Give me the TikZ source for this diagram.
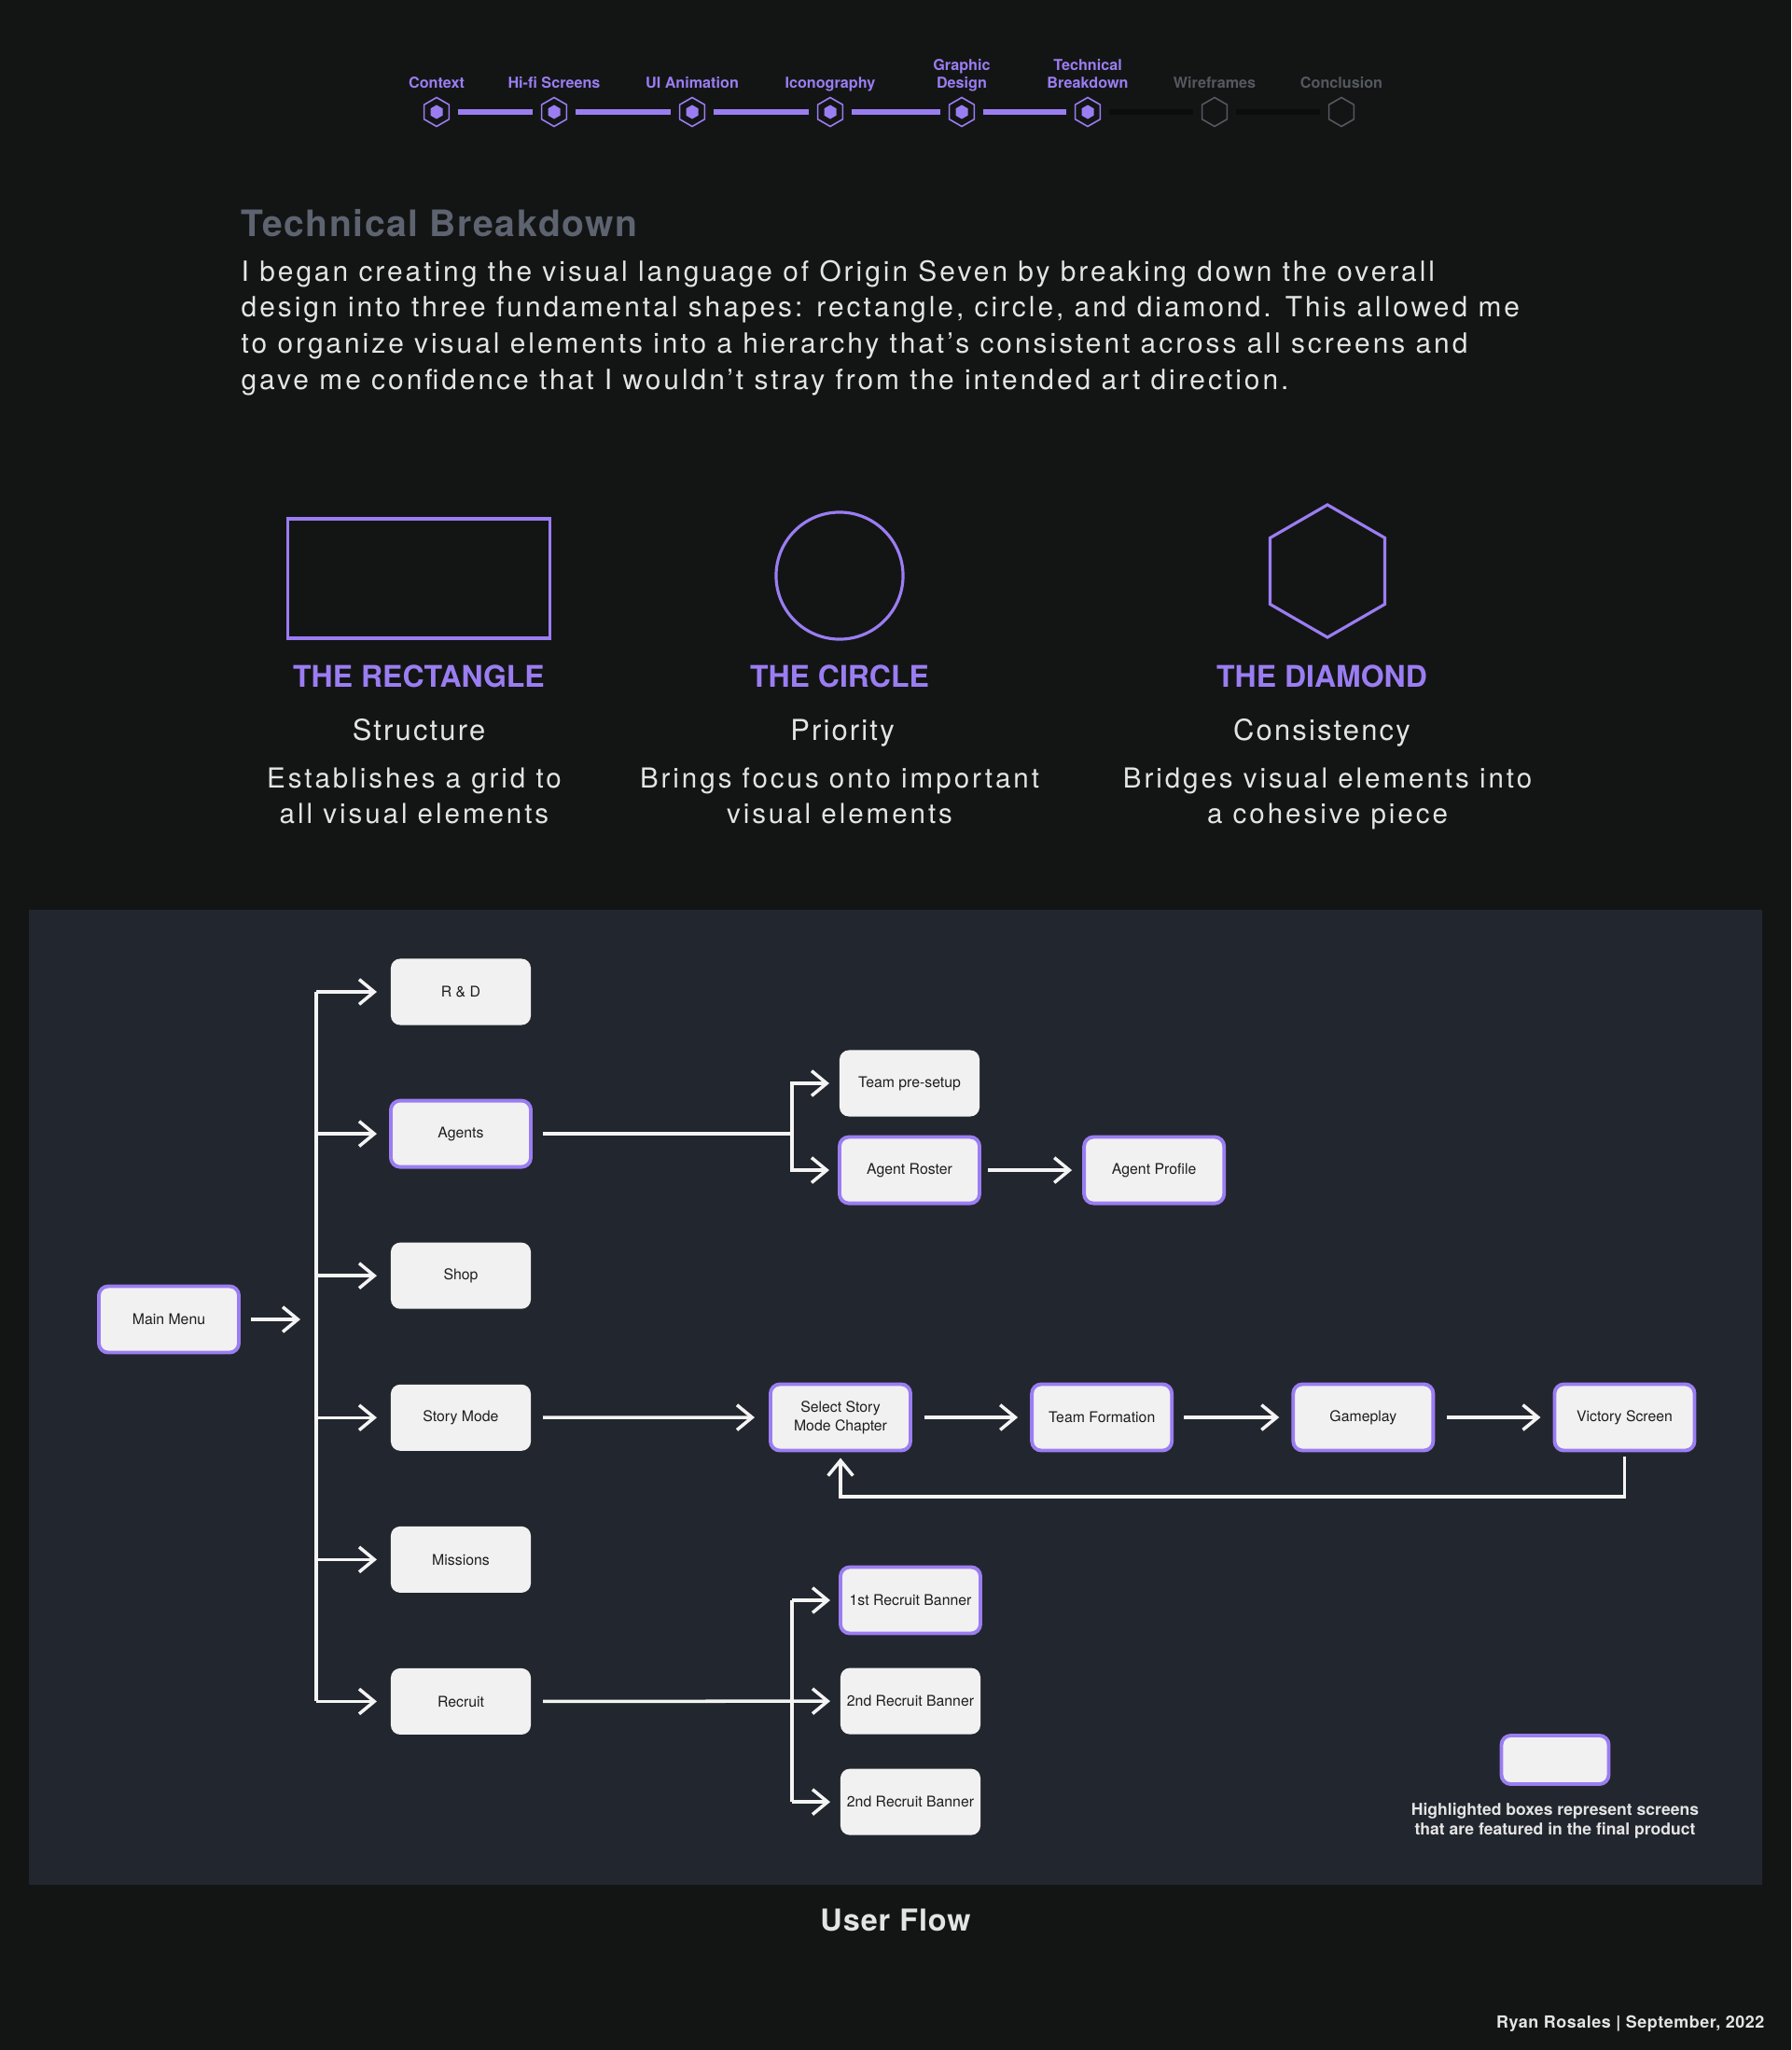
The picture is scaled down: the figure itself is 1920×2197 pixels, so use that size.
\documentclass[tikz,border=0pt]{standalone}
\usepackage{fontspec}
\setmainfont{TeX Gyre Heros}
\newfontfamily\widefont{TeX Gyre Heros}[LetterSpace=10]
\newfontfamily\subfont{TeX Gyre Heros}[LetterSpace=7]
\newfontfamily\headfont{TeX Gyre Heros}[LetterSpace=4]
\newfontfamily\creditfont{TeX Gyre Heros}[LetterSpace=3]
\usetikzlibrary{positioning}
\usetikzlibrary{shapes.geometric}
\usetikzlibrary{arrows.meta}
\definecolor{bgdark}{HTML}{131515}
\definecolor{panel}{HTML}{22262E}
\definecolor{accent}{HTML}{9B7DF2}
\definecolor{pending}{HTML}{55585E}
\definecolor{pendingbar}{HTML}{0B0C0C}
\definecolor{titlegrey}{HTML}{5E6370}
\definecolor{bodygrey}{HTML}{E4E4E4}
\definecolor{boxfill}{HTML}{F1F1F1}
\definecolor{boxtext}{HTML}{1E1E1E}
\definecolor{flowwhite}{HTML}{F4F4F4}
\tikzset{%
  stagehex/.style = {regular polygon,regular polygon sides=6,
        shape border rotate=30,draw=accent,line width=0.45pt,
        minimum size=0.31cm,inner sep=0pt},
  stagedot/.style = {regular polygon,regular polygon sides=6,
        shape border rotate=30,fill=accent,minimum size=0.15cm,
        inner sep=0pt},
  stagelabel/.style = {text=accent,inner sep=0pt,align=center,
        font=\bfseries\fontsize{4.6pt}{5.4pt}\selectfont},
  donebar/.style = {accent,line width=1.85pt,shorten <=0.085cm,
        shorten >=0.085cm},
  todobar/.style = {donebar,pendingbar},
  shapeline/.style = {draw=accent,line width=0.9pt,inner sep=0pt},
  shapehead/.style = {text=accent,inner sep=0pt,
        font=\bfseries\fontsize{9.1pt}{11pt}\selectfont},
  shapesub/.style = {text=bodygrey,inner sep=0pt,
        font=\subfont\fontsize{8.8pt}{11pt}\selectfont},
  shapedesc/.style = {text=bodygrey,inner sep=0pt,align=center,
        font=\widefont\fontsize{8.4pt}{10.67pt}\selectfont},
  screen/.style = {rectangle,rounded corners=0.1cm,fill=boxfill,
        text=boxtext,minimum width=1.5cm,minimum height=0.71cm,
        inner sep=0pt,outer sep=0pt,align=center,
        font=\fontsize{4.5pt}{5.6pt}\selectfont},
  hl/.style = {screen,draw=accent,line width=1.1pt},
  flowline/.style = {draw=flowwhite,line width=1pt},
  flowarrow/.style = {flowline,-{Straight Barb[length=4.6pt,width=7.6pt]},
        shorten >=0.15cm}
}

\begin{document}
\begin{tikzpicture}[x=0.01cm,y=-0.01cm,node distance=0.81cm and 1.3cm]
   \useasboundingbox (0,0) rectangle (1920,2197);
   \fill[bgdark] (0,0) rectangle (1920,2197);

   % progress strip
   \node[stagehex] (s1) at (468,120) {};
   \node[stagehex] (s2) at (594,120) {};
   \node[stagehex] (s3) at (742,120) {};
   \node[stagehex] (s4) at (890,120) {};
   \node[stagehex] (s5) at (1031,120) {};
   \node[stagehex] (s6) at (1166,120) {};
   \node[stagehex,draw=pending] (s7) at (1302,120) {};
   \node[stagehex,draw=pending] (s8) at (1438,120) {};
   \node[stagedot] (d1) at (s1) {};
   \node[stagedot] (d2) at (s2) {};
   \node[stagedot] (d3) at (s3) {};
   \node[stagedot] (d4) at (s4) {};
   \node[stagedot] (d5) at (s5) {};
   \node[stagedot] (d6) at (s6) {};

   \draw[donebar] (s1) -- (s2);
   \draw[donebar] (s2) -- (s3);
   \draw[donebar] (s3) -- (s4);
   \draw[donebar] (s4) -- (s5);
   \draw[donebar] (s5) -- (s6);
   \draw[todobar] (s6) -- (s7);
   \draw[todobar] (s7) -- (s8);

   \node[stagelabel,above=0.095cm of s1.north,anchor=base] (l1) {Context};
   \node[stagelabel,above=0.095cm of s2.north,anchor=base] (l2) {Hi-fi Screens};
   \node[stagelabel,above=0.095cm of s3.north,anchor=base] (l3) {UI Animation};
   \node[stagelabel,above=0.095cm of s4.north,anchor=base] (l4) {Iconography};
   \node[stagelabel,above=0.095cm of s5.north,anchor=base] (l5) {Graphic\\Design};
   \node[stagelabel,above=0.095cm of s6.north,anchor=base] (l6) {Technical\\Breakdown};
   \node[stagelabel,text=pending,above=0.095cm of s7.north,anchor=base] (l7) {Wireframes};
   \node[stagelabel,text=pending,above=0.095cm of s8.north,anchor=base] (l8) {Conclusion};

   % intro
   \node[text=titlegrey,inner sep=0pt,anchor=base west,
         font=\headfont\bfseries\fontsize{11.1pt}{13pt}\selectfont] (title) at (258,253)
         {Technical Breakdown};
   \node[text=bodygrey,inner sep=0pt,anchor=base west,align=left,
         font=\widefont\fontsize{8.5pt}{10.95pt}\selectfont] (intro) at (258,417)
         {I began creating the visual language of Origin Seven by breaking down the overall\\
          design into three fundamental shapes: rectangle, circle, and diamond. This allowed me\\
          to organize visual elements into a hierarchy that’s consistent across all screens and\\
          gave me confidence that I wouldn’t stray from the intended art direction.};

   % the three shapes
   \node[shapeline,rectangle,minimum width=2.81cm,minimum height=1.28cm] (rectshape) at (449,620) {};
   \node[shapeline,circle,minimum size=1.36cm] (circshape) at (900,617) {};
   \node[shapeline,regular polygon,regular polygon sides=6,shape border rotate=30,
         minimum size=1.42cm] (hexshape) at (1423,612) {};

   \node[shapehead,anchor=base] (recthead) at (449,736) {THE RECTANGLE};
   \node[shapehead,anchor=base] (circhead) at (900,736) {THE CIRCLE};
   \node[shapehead,anchor=base] (hexhead) at (1417,736) {THE DIAMOND};

   \node[shapesub,anchor=base] (rectsub) at (449,793) {Structure};
   \node[shapesub,anchor=base] (circsub) at (903,793) {Priority};
   \node[shapesub,anchor=base] (hexsub) at (1417,793) {Consistency};

   \node[shapedesc,anchor=base] (rectdesc) at (444,882) {Establishes a grid to\\all visual elements};
   \node[shapedesc,anchor=base] (circdesc) at (900,882) {Brings focus onto important\\visual elements};
   \node[shapedesc,anchor=base] (hexdesc) at (1423,882) {Bridges visual elements into\\a cohesive piece};

   % user flow
   \fill[panel] (31,975) rectangle (1889,2020);

   \node[hl] (mm) at (181,1414) {Main Menu};
   \node[screen] (rd) at (494,1063) {R \& D};
   \node[hl] (ag) [below=of rd] {Agents};
   \node[screen] (sh) [below=of ag] {Shop};
   \node[screen] (sm) [below=of sh] {Story Mode};
   \node[screen] (mi) [below=of sm] {Missions};
   \node[screen] (rc) [below=of mi] {Recruit};

   \node[screen] (tp) at (975,1161) {Team pre-setup};
   \node[hl] (ar) [below=0.22cm of tp] {Agent Roster};
   \node[hl] (ap) [right=1.12cm of ar] {Agent Profile};

   \node[hl] (ss) at (901,1519) {Select Story\\Mode Chapter};
   \node[hl] (tf) [right=of ss] {Team Formation};
   \node[hl] (gp) [right=of tf] {Gameplay};
   \node[hl] (vs) [right=of gp] {Victory Screen};

   \node[hl] (b1) at (976,1715) {1st Recruit Banner};
   \node[screen] (b2) [below=0.37cm of b1] {2nd Recruit Banner};
   \node[screen] (b3) [below=0.37cm of b2] {2nd Recruit Banner};

   \coordinate (trunk) at (339,1414);
   \coordinate (asplit) at (849,1216);
   \coordinate (rsplit) at (849,1823);
   \coordinate (loopy) at (0,1604);

   \draw[flowarrow,shorten <=0.13cm,shorten >=0.17cm] (mm) -- (trunk);
   \draw[flowline] (trunk |- rd) -- (trunk |- rc);
   \draw[flowarrow] (trunk |- rd) -- (rd);
   \draw[flowarrow] (trunk |- ag) -- (ag);
   \draw[flowarrow] (trunk |- sh) -- (sh);
   \draw[flowarrow] (trunk |- sm) -- (sm);
   \draw[flowarrow] (trunk |- mi) -- (mi);
   \draw[flowarrow] (trunk |- rc) -- (rc);

   \draw[flowline,shorten <=0.13cm] (ag) -- (asplit |- ag);
   \draw[flowarrow,shorten >=0.11cm] (asplit |- ag) |- (tp);
   \draw[flowarrow,shorten >=0.11cm] (asplit |- ag) |- (ar);
   \draw[flowarrow,shorten <=0.09cm,shorten >=0.13cm] (ar) -- (ap);

   \draw[flowarrow,shorten <=0.13cm,shorten >=0.17cm] (sm) -- (ss);
   \draw[flowarrow,shorten <=0.15cm] (ss) -- (tf);
   \draw[flowarrow,shorten <=0.13cm] (tf) -- (gp);
   \draw[flowarrow,shorten <=0.15cm] (gp) -- (vs);
   \draw[flowarrow,shorten <=0.06cm,shorten >=0.08cm] (vs) -- (vs |- loopy) -| (ss);

   \draw[flowarrow,shorten <=0.13cm,shorten >=0.11cm] (rc) -- (b2);
   \draw[flowline] (rsplit |- b1) -- (rsplit |- b3);
   \draw[flowarrow,shorten >=0.11cm] (rsplit |- b1) -- (b1);
   \draw[flowarrow,shorten >=0.11cm] (rsplit |- b3) -- (b3);

   % legend
   \node[hl,minimum width=1.15cm,minimum height=0.52cm] (legendbox) at (1667,1886) {};
   \node[text=bodygrey,inner sep=0pt,align=center,below=0.2cm of legendbox,
         font=\bfseries\fontsize{5pt}{6pt}\selectfont] (legendtext)
         {Highlighted boxes represent screens\\that are featured in the final product};

   \node[text=bodygrey,inner sep=0pt,
         font=\creditfont\bfseries\fontsize{9.2pt}{11pt}\selectfont] (flowtitle) at (960,2058) {User Flow};
   \node[text=bodygrey,inner sep=0pt,anchor=base east,
         font=\creditfont\bfseries\fontsize{5.1pt}{6pt}\selectfont] (credit) at (1892,2173)
         {Ryan Rosales | September, 2022};
\end{tikzpicture}
\end{document}
